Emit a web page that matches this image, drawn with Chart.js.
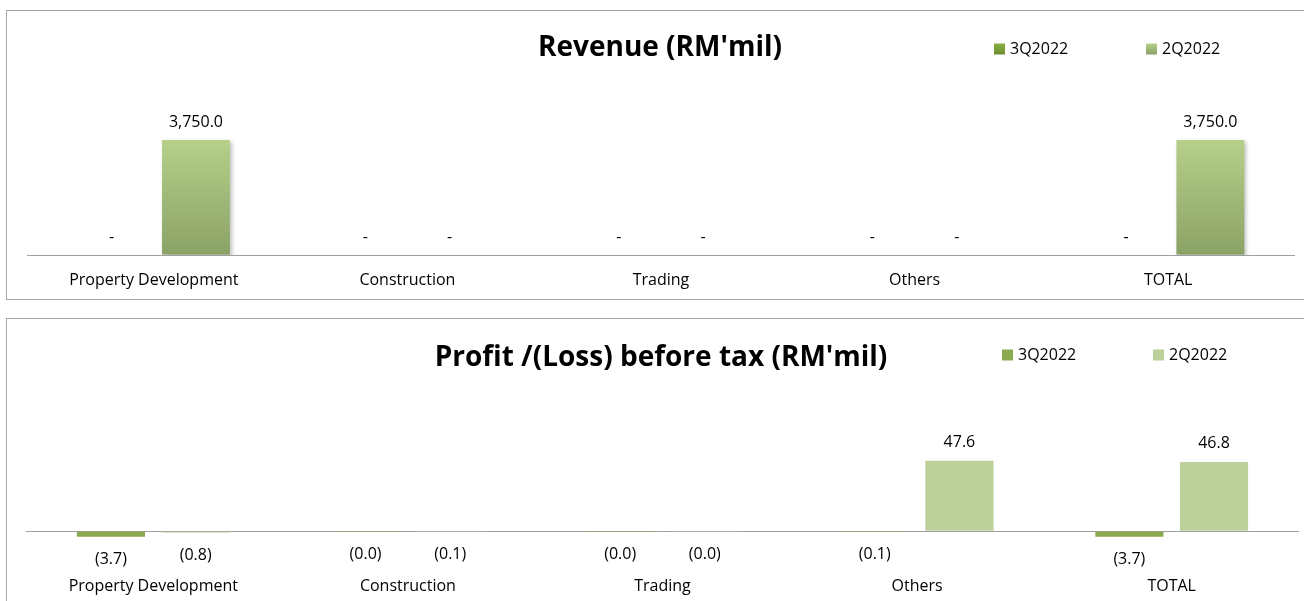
<!DOCTYPE html>
<html>
<head>
<meta charset="utf-8">
<title>Revenue and Profit before tax by segment</title>
<script src="https://cdn.jsdelivr.net/npm/chart.js@4.4.1/dist/chart.umd.min.js"></script>
<style>
  html, body { margin: 0; padding: 0; overflow: hidden; background: #fff; }
  .chart-box { position: absolute; left: 6px; width: 1310px; border: 1px solid #a6a6a6; background: #fff; }
  #revenueBox { top: 10px; height: 288px; }
  #profitBox { top: 318px; height: 300px; }
  canvas { display: block; }
</style>
</head>
<body>
<div class="chart-box" id="revenueBox"><canvas id="revenueChart" width="1297" height="288"></canvas></div>
<div class="chart-box" id="profitBox"><canvas id="profitChart" width="1297" height="282"></canvas></div>
<script>
const categories = ["Property Development", "Construction", "Trading", "Others", "TOTAL"];
const seriesNames = ["3Q2022", "2Q2022"];

// Revenue (RM'mil)
const revenue3Q = [0, 0, 0, 0, 0];
const revenue2Q = [3750, 0, 0, 0, 3750];

// Profit /(Loss) before tax (RM'mil)
const profit3Q = [-3.7, -0.04, -0.02, -0.1, -3.7];
const profit2Q = [-0.8, -0.1, -0.03, 47.6, 46.8];

const FONT = "'Open Sans'";

function fmt(v) {
  if (v === 0) return "-";
  const s = Math.abs(v).toLocaleString("en-US", { minimumFractionDigits: 1, maximumFractionDigits: 1 });
  return v < 0 ? "(" + s + ")" : s;
}

// gradient running down each bar, like the excel "preset" fill
function barGradient(topColor, bottomColor) {
  return (c) => {
    const chart = c.chart;
    const y = chart.scales.y;
    if (!chart.chartArea || !y || c.parsed == null) return topColor;
    const y0 = y.getPixelForValue(0);
    const y1 = y.getPixelForValue(c.parsed.y);
    if (Math.abs(y1 - y0) < 1) return topColor;
    const g = chart.ctx.createLinearGradient(0, y1, 0, y0);
    g.addColorStop(0, topColor);
    g.addColorStop(1, bottomColor);
    return g;
  };
}

// value labels above / below bars
const valueLabels = {
  id: "valueLabels",
  afterDraw(chart) {
    const ctx = chart.ctx;
    ctx.save();
    ctx.font = "16px " + FONT;
    ctx.fillStyle = "#000";
    ctx.textAlign = "center";
    ctx.textBaseline = "middle";
    chart.data.datasets.forEach((ds, i) => {
      chart.getDatasetMeta(i).data.forEach((bar, j) => {
        const v = ds.data[j];
        const y = v < 0 ? bar.y + 23 : bar.y - 18;
        ctx.fillText(fmt(v), bar.x, y);
      });
    });
    ctx.restore();
  }
};

// title and legend share one row, so they are drawn here
function makeHeader(cfg) {
  return {
    id: "header",
    afterDraw(chart) {
      const ctx = chart.ctx;
      ctx.save();
      ctx.fillStyle = "#000";
      ctx.font = "bold 28px " + FONT;
      ctx.textAlign = "center";
      ctx.textBaseline = "middle";
      ctx.fillText(cfg.title, cfg.titleX, cfg.titleY);

      ctx.font = "16px " + FONT;
      ctx.textAlign = "left";
      chart.data.datasets.forEach((ds, i) => {
        const x = cfg.legendX[i];
        const top = cfg.legendY - 5.5;
        const sw = cfg.swatches[i];
        if (Array.isArray(sw)) {
          const g = ctx.createLinearGradient(0, top, 0, top + 11);
          g.addColorStop(0, sw[0]);
          g.addColorStop(1, sw[1]);
          ctx.fillStyle = g;
        } else {
          ctx.fillStyle = sw;
        }
        ctx.fillRect(x, top, 11, 11);
        ctx.fillStyle = "#000";
        ctx.fillText(ds.label, x + 16, cfg.legendY);
      });
      ctx.restore();
    }
  };
}

// light shadow under the revenue bars
const barShadow = {
  id: "barShadow",
  beforeDatasetsDraw(chart) {
    const ctx = chart.ctx;
    ctx.save();
    ctx.shadowColor = "rgba(0,0,0,0.25)";
    ctx.shadowBlur = 4;
    ctx.shadowOffsetX = 2;
    ctx.shadowOffsetY = 2;
  },
  afterDatasetsDraw(chart) {
    chart.ctx.restore();
  }
};

function buildChart(canvasId, cfg) {
  const canvas = document.getElementById(canvasId);
  return new Chart(canvas.getContext("2d"), {
    type: "bar",
    data: {
      labels: categories,
      datasets: [
        { label: seriesNames[0], data: cfg.data[0], backgroundColor: cfg.colors[0], borderWidth: 0 },
        { label: seriesNames[1], data: cfg.data[1], backgroundColor: cfg.colors[1], borderWidth: 0 }
      ]
    },
    options: {
      responsive: false,
      animation: false,
      devicePixelRatio: 1,
      categoryPercentage: 0.665,
      barPercentage: 0.805,
      layout: { padding: cfg.padding },
      plugins: {
        legend: { display: false },
        title: { display: false },
        tooltip: { enabled: false }
      },
      scales: {
        x: {
          grid: { display: false, drawTicks: false },
          border: { display: false },
          ticks: {
            color: "#000",
            font: { family: FONT, size: 16 },
            padding: 16,
            maxRotation: 0,
            autoSkip: false
          },
          afterFit: (s) => { s.height = cfg.axisHeight; }
        },
        y: {
          min: cfg.min,
          max: cfg.max,
          ticks: { display: false },
          grid: { drawTicks: false, color: "#a0a0a0", lineWidth: 1 },
          border: { display: false },
          afterBuildTicks: (s) => { s.ticks = [{ value: 0 }]; }
        }
      }
    },
    plugins: cfg.extraPlugins.concat([valueLabels, makeHeader(cfg.header)])
  });
}

buildChart("revenueChart", {
  data: [revenue3Q, revenue2Q],
  colors: [barGradient("#87b03e", "#6b8c30"), barGradient("#b6d08a", "#8ba266")],
  min: 0,
  max: 6000,
  padding: { top: 60, left: 20, right: 9, bottom: 0 },
  axisHeight: 44,
  extraPlugins: [barShadow],
  header: {
    title: "Revenue (RM'mil)",
    titleX: 653, titleY: 37,
    legendX: [987, 1139], legendY: 38,
    swatches: [["#87b03e", "#6b8c30"], ["#b6d08a", "#8ba266"]]
  }
});

buildChart("profitChart", {
  data: [profit3Q, profit2Q],
  colors: ["#8aaa4f", "#bbd09a"],
  min: -20,
  max: 100,
  padding: { top: 64, left: 19, right: 5, bottom: 0 },
  axisHeight: 40,
  extraPlugins: [],
  header: {
    title: "Profit /(Loss) before tax (RM'mil)",
    titleX: 654, titleY: 39,
    legendX: [995, 1146], legendY: 36,
    swatches: ["#8aaa4f", "#bbd09a"]
  }
});
</script>
</body>
</html>
